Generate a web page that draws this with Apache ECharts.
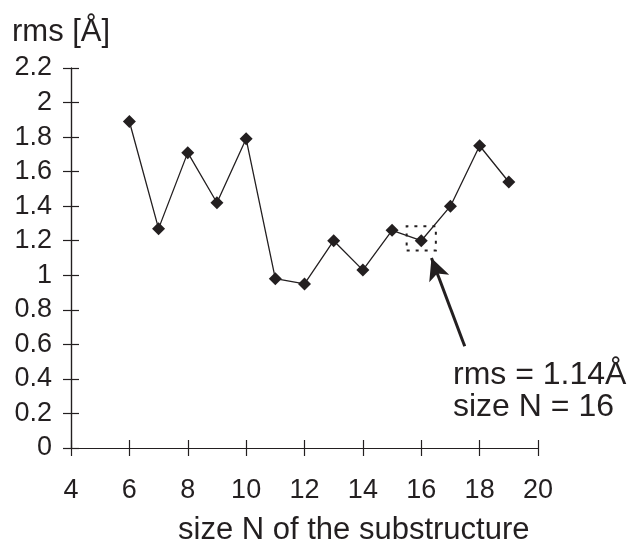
<!DOCTYPE html>
<html>
<head>
<meta charset="utf-8">
<script src="https://cdn.jsdelivr.net/npm/echarts@6/dist/echarts.min.js"></script>
<style>html,body{margin:0;padding:0;background:#fff;}#c{width:630px;height:541px;}</style>
</head>
<body>
<div id="c"></div>
<script>
// ---- data ----
var sizesN = [6, 7, 8, 9, 10, 11, 12, 13, 14, 15, 16, 17, 18, 19];
var rmsValues = [1.89, 1.27, 1.71, 1.42, 1.79, 0.98, 0.95, 1.20, 1.03, 1.26, 1.20, 1.40, 1.75, 1.54];
var xTicks = [4, 6, 8, 10, 12, 14, 16, 18, 20];
var yTicks = [0, 0.2, 0.4, 0.6, 0.8, 1, 1.2, 1.4, 1.6, 1.8, 2, 2.2];
var highlightBox = [[15.5, 1.143], [16.5, 1.284]];
var arrowFrom = [17.49, 0.589];
var arrowTo = [16.35, 1.10];
var annotationLines = ['rms = 1.14Å', 'size N = 16'];
var xTitle = 'size N of the substructure';
var yTitle = 'rms [Å]';

var FONT = '"Liberation Sans", Arial, Helvetica, sans-serif';
var INK = '#231f20';

var points = sizesN.map(function (n, i) { return [n, rmsValues[i]]; });

var xMin = xTicks[0], xMax = xTicks[xTicks.length - 1], xInt = xTicks[1] - xTicks[0];
var yMin = yTicks[0], yMax = yTicks[yTicks.length - 1], yInt = 0.2;

function makeAxis(kind, gridIndex, inside, showLabel) {
  var isX = kind === 'x';
  return {
    type: 'value', gridIndex: gridIndex,
    min: isX ? xMin : yMin, max: isX ? xMax : yMax, interval: isX ? xInt : yInt,
    axisLine: { show: true, lineStyle: { color: INK, width: 1.2 } },
    axisTick: { show: true, inside: inside, length: 8, lineStyle: { color: INK, width: 1.2 } },
    splitLine: { show: false },
    axisLabel: showLabel
      ? { show: true, margin: isX ? 29 : 19, color: INK, fontSize: 27, fontFamily: FONT }
      : { show: false }
  };
}

function gridRect() { return { left: 71, right: 92, top: 68, bottom: 93 }; }

var chart = echarts.init(document.getElementById('c'), null, { renderer: 'canvas' });
chart.setOption({
  animation: false,
  backgroundColor: '#fff',
  grid: [gridRect(), gridRect()],
  xAxis: [makeAxis('x', 0, false, true), makeAxis('x', 1, true, false)],
  yAxis: [makeAxis('y', 0, false, true), makeAxis('y', 1, true, false)],
  series: [{
    type: 'line',
    xAxisIndex: 0, yAxisIndex: 0,
    data: points,
    symbol: 'diamond',
    symbolSize: 13,
    lineStyle: { color: INK, width: 1.3 },
    itemStyle: { color: INK },
    z: 5,
    markArea: {
      silent: true,
      itemStyle: { color: 'rgba(0,0,0,0)', borderColor: INK, borderWidth: 2, borderType: [3, 6] },
      data: [[{ coord: highlightBox[0] }, { coord: highlightBox[1] }]]
    },
    markLine: {
      silent: true,
      symbol: ['none', 'arrow'],
      symbolSize: [16, 22],
      label: { show: false },
      lineStyle: { color: INK, width: 3, type: 'solid' },
      data: [[{ coord: arrowFrom }, { coord: arrowTo }]]
    }
  }, {
    // invisible carrier series so the inner-tick axes of the overlay grid are drawn
    type: 'line',
    xAxisIndex: 1, yAxisIndex: 1,
    data: points,
    symbol: 'none',
    lineStyle: { color: 'rgba(0,0,0,0)', width: 0 },
    silent: true
  }],
  graphic: [
    { type: 'text', left: 12, top: 17, style: { text: yTitle, fill: INK, font: '31px ' + FONT } },
    { type: 'text', left: 178, top: 515, style: { text: xTitle, fill: INK, font: '31px ' + FONT } },
    { type: 'text', left: 453, top: 359, style: { text: annotationLines.join('\n'), fill: INK, font: '32px ' + FONT, lineHeight: 32 } }
  ]
});
</script>
</body>
</html>
